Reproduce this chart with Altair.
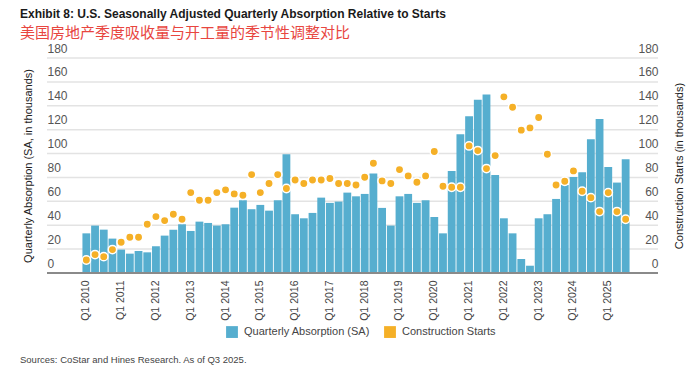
import altair as alt
import pandas as pd

years = list(range(2010, 2026))
quarter_names = ["Q1", "Q2", "Q3", "Q4"]
quarters = [f"{q} {y}" for y in years for q in quarter_names][:63]

absorption = [
    33.2, 39.7, 36.3, 28.8,   # 2010
    19.6, 16.2, 18.4, 17.3,   # 2011
    22.3, 31.3, 36.3, 40.8,   # 2012
    35.2, 43.0, 41.9, 39.7,   # 2013
    40.8, 54.7, 60.9, 53.4,   # 2014
    57.0, 52.2, 60.9, 99.4,   # 2015
    49.2, 45.8, 50.3, 63.1,   # 2016
    58.7, 59.8, 67.3, 64.2,   # 2017
    66.2, 83.2, 54.5, 39.7,   # 2018
    64.2, 66.2, 58.7, 60.9,   # 2019
    46.9, 33.2, 85.5, 116.2,  # 2020
    131.3, 145.0, 149.4, 82.1,  # 2021
    45.8, 33.2, 11.7, 6.1,    # 2022
    45.8, 49.2, 62.0, 73.7,   # 2023
    80.4, 84.4, 112.0, 129.0,  # 2024
    88.8, 75.7, 95.3,         # 2025
]

starts = [
    10.9, 15.4, 13.7, 19.6,
    25.7, 29.9, 29.9, 40.8,
    47.2, 43.9, 49.2, 45.0,
    67.3, 60.9, 60.9, 67.3,
    69.6, 66.2, 65.1, 82.4,
    67.3, 74.9, 82.4, 70.7,
    77.9, 74.9, 77.9, 77.9,
    79.1, 74.9, 74.9, 73.7,
    80.2, 91.9, 77.1, 74.9,
    86.6, 81.3, 76.0, 81.3,
    101.7, 72.6, 71.8, 71.8,
    106.4, 102.5, 87.4, 98.3,
    147.5, 138.8, 119.6, 121.5,
    130.2, 99.4, 73.7, 76.8,
    85.5, 68.4, 63.1, 51.4,
    67.3, 51.4, 45.0,
]

series_names = ["Quarterly Absorption (SA)", "Construction Starts"]
series_colors = ["#56AECF", "#F5B027"]
y_ticks = [0, 20, 40, 60, 80, 100, 120, 140, 160, 180]
x_label_values = [q for q in quarters if q.startswith("Q1")]

title_text = "Exhibit 8: U.S. Seasonally Adjusted Quarterly Absorption Relative to Starts"
subtitle_text = "美国房地产季度吸收量与开工量的季节性调整对比"
source_text = "Sources: CoStar and Hines Research. As of Q3 2025."

df = pd.DataFrame({"quarter": quarters, "absorption": absorption, "starts": starts})
grid_df = pd.DataFrame({"v": y_ticks[1:]})
base_df = pd.DataFrame({"v": [0]})
src_df = pd.DataFrame({"t": [source_text]})

W, H = 548, 215
FONT = "Liberation Sans"
LEFT_EXT = 35
RIGHT_EXT = 28

yscale = alt.Scale(domain=[0, 180], nice=False)
color_scale = alt.Scale(domain=series_names, range=series_colors)

xenc = alt.X(
    "quarter:O",
    sort=quarters,
    scale=alt.Scale(domain=quarters, paddingInner=0.1, paddingOuter=0.05),
    axis=alt.Axis(
        values=x_label_values, labelAngle=270, domain=False, ticks=False,
        labelPadding=7, labelFontSize=10.5, labelColor="#444", labelFont=FONT,
        title=None,
    ),
)

grid = alt.Chart(grid_df).mark_rule(color="#e3e3e3", strokeWidth=1.5).encode(
    y=alt.Y("v:Q", scale=yscale, axis=None),
    x=alt.value(-LEFT_EXT),
    x2=alt.value(W + RIGHT_EXT),
)

bars = alt.Chart(df).mark_bar().transform_calculate(
    series="'Quarterly Absorption (SA)'"
).encode(
    x=xenc,
    y=alt.Y(
        "absorption:Q", scale=yscale,
        axis=alt.Axis(
            orient="left", values=y_ticks, grid=False, domain=False, ticks=False,
            tickSize=0, labelAlign="left", labelPadding=LEFT_EXT,
            labelBaseline="bottom", labelOffset=-3, labelFontSize=12,
            labelColor="#555", labelFont=FONT,
            title="Quarterly Absorption (SA, in thousands)",
            titleFontSize=11, titleFont=FONT, titleColor="#222",
            titleFontWeight="normal", titlePadding=14,
        ),
    ),
    color=alt.Color("series:N", scale=color_scale, legend=alt.Legend(
        orient="none", legendX=144, legendY=268, direction="horizontal",
        title=None, symbolType="square", symbolSize=140, symbolStrokeWidth=0,
        labelFontSize=11, labelFont=FONT, labelColor="#444",
        columnPadding=14, labelOffset=6,
    )),
)

baseline = alt.Chart(base_df).mark_rule(color="#8a8a8a", strokeWidth=2).encode(
    y=alt.Y("v:Q", scale=yscale, axis=None),
    x=alt.value(-LEFT_EXT),
    x2=alt.value(W + RIGHT_EXT),
)

points = alt.Chart(df).mark_point(
    filled=True, size=70, stroke="white", strokeWidth=1.5, opacity=1
).transform_calculate(
    series="'Construction Starts'"
).encode(
    x=alt.X("quarter:O", sort=quarters),
    y=alt.Y(
        "starts:Q", scale=yscale,
        axis=alt.Axis(
            orient="right", values=y_ticks, grid=False, domain=False, ticks=False,
            tickSize=0, labelAlign="right", labelPadding=RIGHT_EXT,
            labelBaseline="bottom", labelOffset=-3, labelFontSize=12,
            labelColor="#555", labelFont=FONT,
            title="Construction Starts (in thousands)",
            titleFontSize=11, titleFont=FONT, titleColor="#222",
            titleFontWeight="normal", titlePadding=26, titleAngle=270,
        ),
    ),
    color=alt.Color("series:N", scale=color_scale),
)

source = alt.Chart(src_df).mark_text(
    align="left", baseline="middle", fontSize=9.5, font=FONT, color="#444"
).encode(
    text="t:N", x=alt.value(-62), y=alt.value(302),
)

chart = alt.layer(grid, bars, baseline, points, source).resolve_scale(
    y="independent"
).properties(
    width=W, height=H,
    padding={"left": 74, "top": 50, "right": 62, "bottom": 103},
    autosize=alt.AutoSizeParams(type="none"),
    title=alt.TitleParams(
        text=title_text, subtitle=subtitle_text, anchor="start", frame="group",
        dx=-62, offset=0, font=FONT, fontSize=12, fontWeight="bold",
        color="#1a1a1a", subtitleFont="Noto Sans CJK SC", subtitleFontSize=15,
        subtitleColor="#E8463F", subtitlePadding=5,
    ),
).configure_view(stroke=None)

chart.save("out.html", embed_options={"renderer": "svg", "actions": False})
